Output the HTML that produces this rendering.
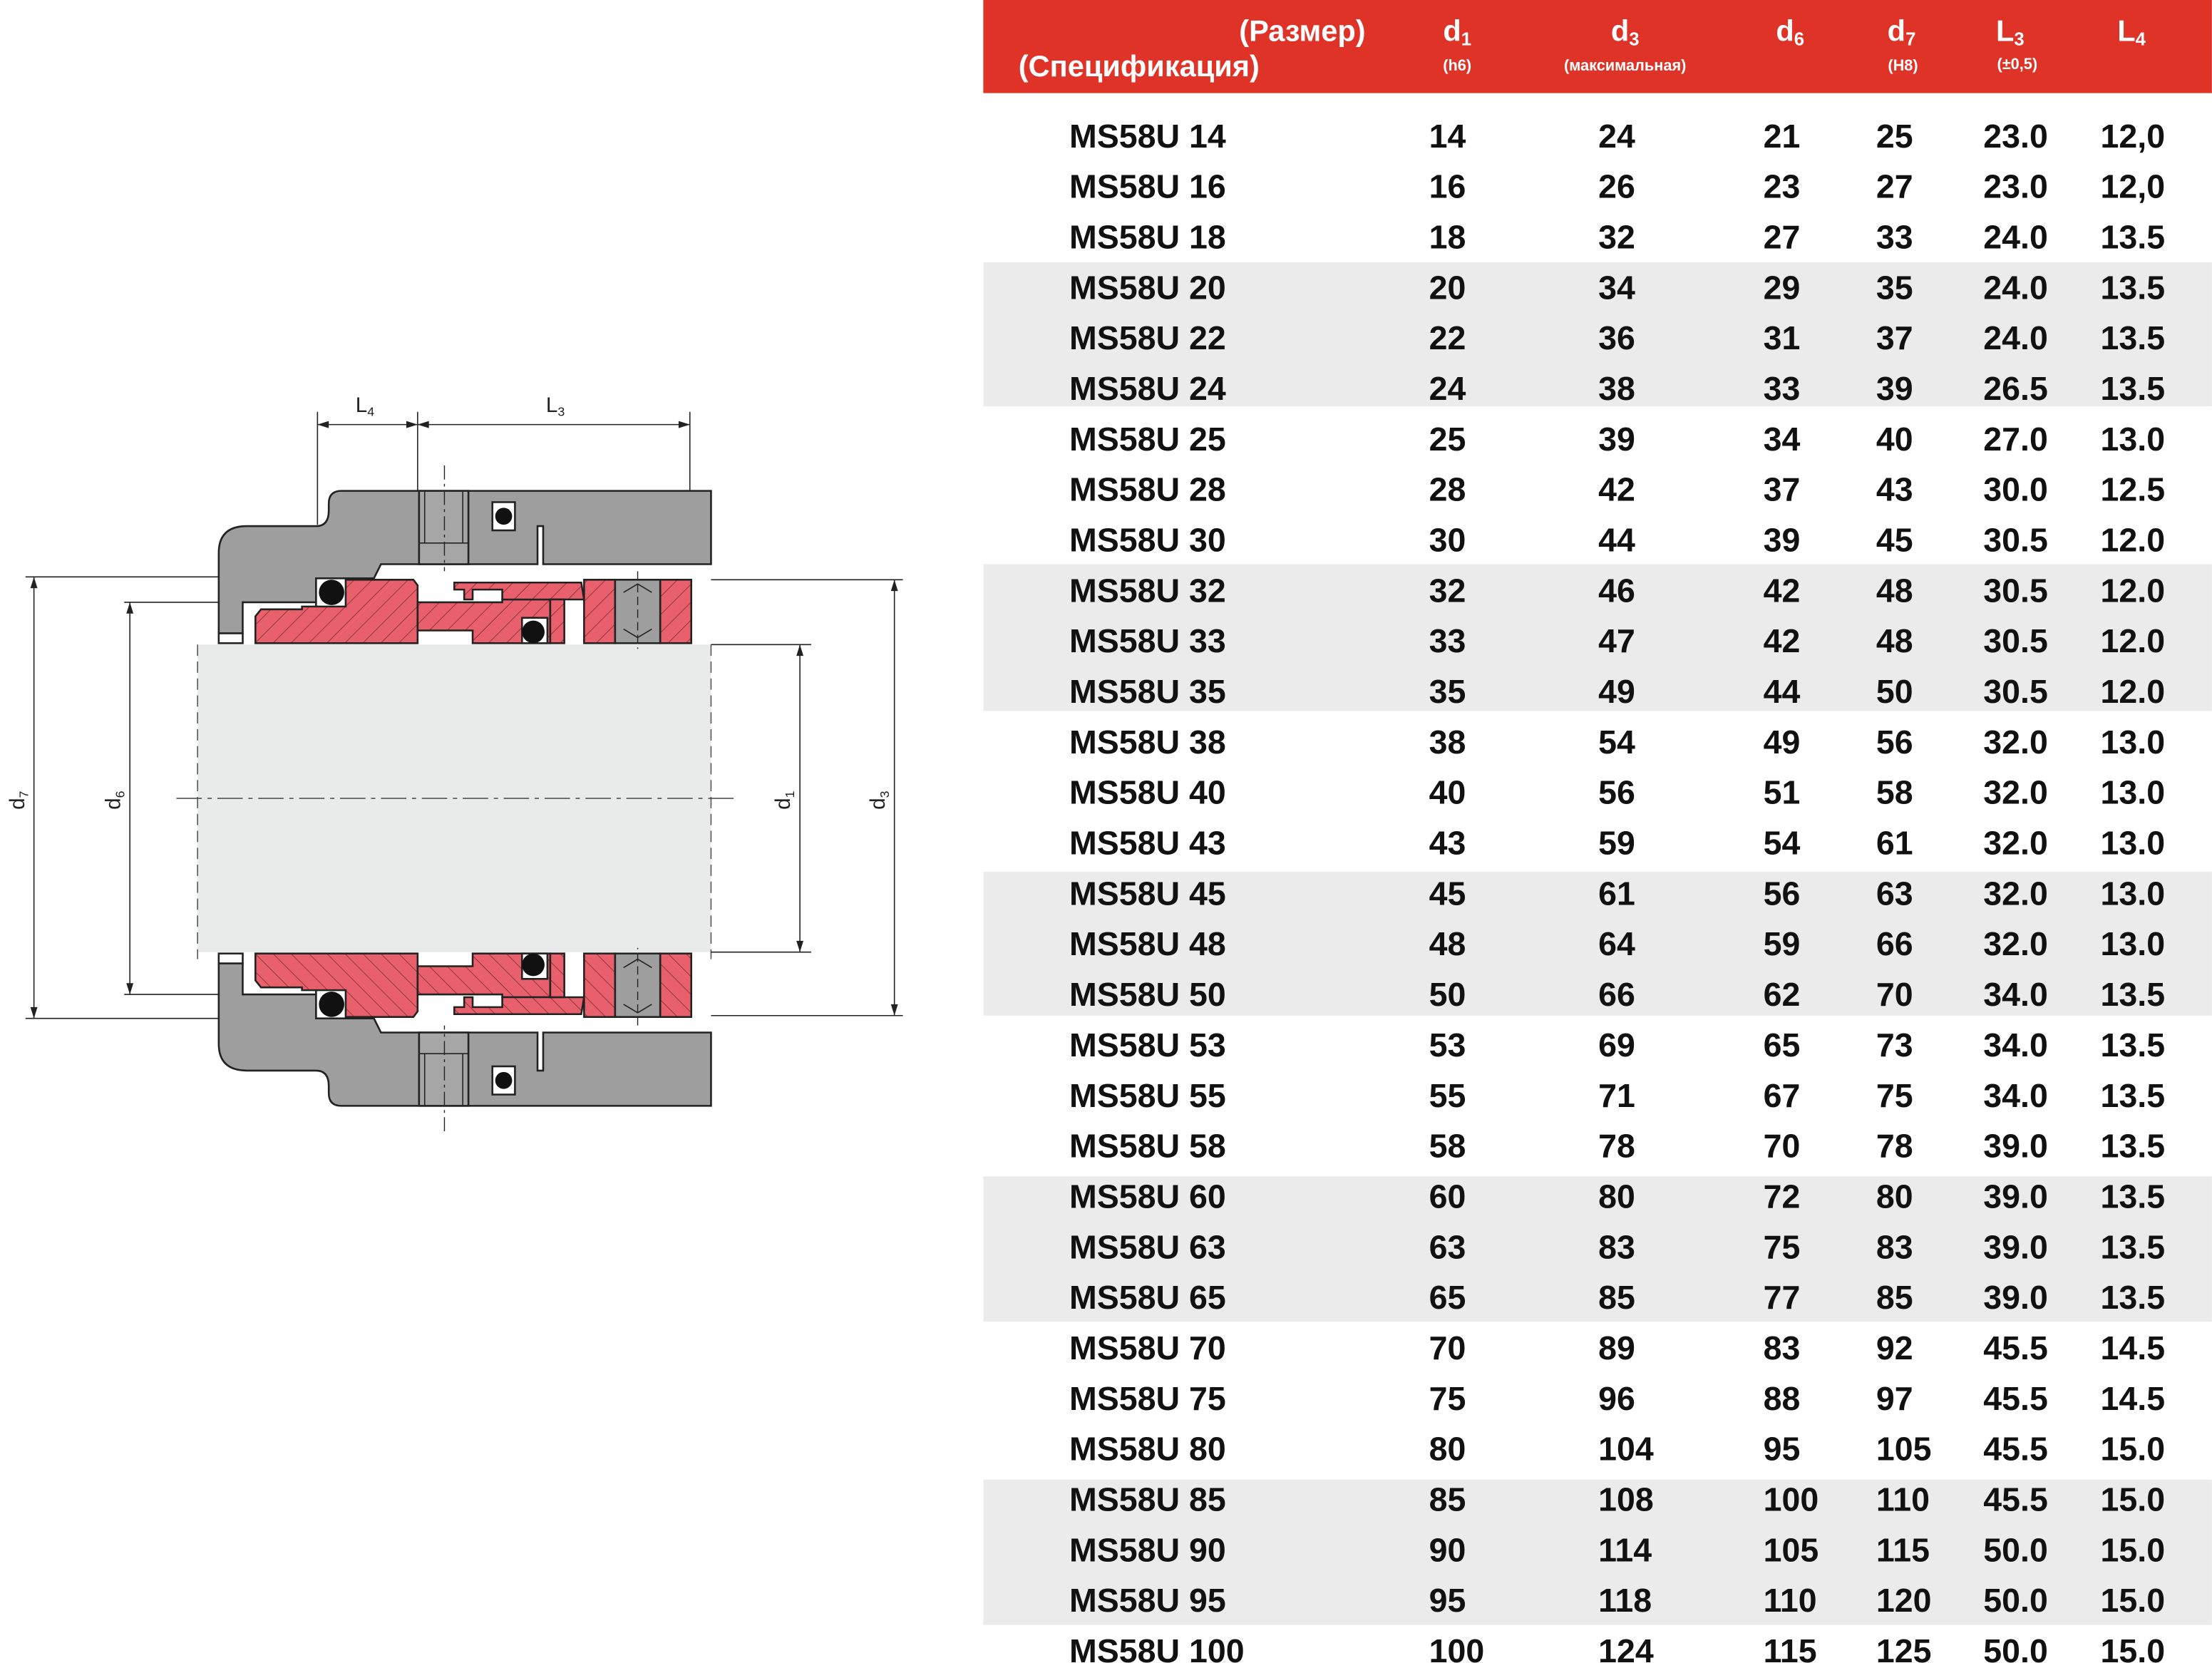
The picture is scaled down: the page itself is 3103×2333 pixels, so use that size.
<!DOCTYPE html>
<html><head><meta charset="utf-8"><style>html,body{margin:0;padding:0;background:#fff}svg{display:block}</style></head>
<body>
<svg width="3103" height="2333" viewBox="0 0 1568 1179" xmlns="http://www.w3.org/2000/svg">
<defs>
<pattern id="h" patternUnits="userSpaceOnUse" width="9" height="9" patternTransform="rotate(45)">
<rect width="9" height="9" fill="#e8606c"/><line x1="0" y1="0" x2="0" y2="9" stroke="#7a2a30" stroke-width="0.8"/></pattern>
</defs>
<rect width="1568" height="1179" fill="#fff"/>
<!-- table bands -->
<rect x="697" y="0" width="871" height="66" fill="#df3328"/>
<g fill="#ebebeb">
<rect x="697" y="186" width="871" height="102"/>
<rect x="697" y="400" width="871" height="104"/>
<rect x="697" y="618" width="871" height="102"/>
<rect x="697" y="834" width="871" height="103"/>
<rect x="697" y="1049" width="871" height="103"/>
</g>
<g font-family="Liberation Sans, sans-serif" font-weight="bold" fill="#fff">
<text x="968" y="29" font-size="21" text-anchor="end">(Размер)</text>
<text x="722" y="54" font-size="21">(Спецификация)</text>
<text x="1033" y="29" font-size="21" text-anchor="middle">d<tspan font-size="13" dy="3">1</tspan></text>
<text x="1152" y="29" font-size="21" text-anchor="middle">d<tspan font-size="13" dy="3">3</tspan></text>
<text x="1269" y="29" font-size="21" text-anchor="middle">d<tspan font-size="13" dy="3">6</tspan></text>
<text x="1348" y="29" font-size="21" text-anchor="middle">d<tspan font-size="13" dy="3">7</tspan></text>
<text x="1425" y="29" font-size="21" text-anchor="middle">L<tspan font-size="13" dy="3">3</tspan></text>
<text x="1511" y="29" font-size="21" text-anchor="middle">L<tspan font-size="13" dy="3">4</tspan></text>
<g font-size="11" text-anchor="middle">
<text x="1033" y="50">(h6)</text><text x="1152" y="50">(максимальная)</text><text x="1349" y="50">(H8)</text><text x="1430" y="49">(±0,5)</text>
</g></g>
<g font-family="Liberation Sans, sans-serif" font-weight="bold" font-size="23.5" fill="#111">
<g id="r">
<text y="104.5"><tspan x="758">MS58U 14</tspan><tspan x="1013">14</tspan><tspan x="1133">24</tspan><tspan x="1250">21</tspan><tspan x="1330">25</tspan><tspan x="1406">23.0</tspan><tspan x="1489">12,0</tspan></text>
<text y="140.3"><tspan x="758">MS58U 16</tspan><tspan x="1013">16</tspan><tspan x="1133">26</tspan><tspan x="1250">23</tspan><tspan x="1330">27</tspan><tspan x="1406">23.0</tspan><tspan x="1489">12,0</tspan></text>
<text y="176.1"><tspan x="758">MS58U 18</tspan><tspan x="1013">18</tspan><tspan x="1133">32</tspan><tspan x="1250">27</tspan><tspan x="1330">33</tspan><tspan x="1406">24.0</tspan><tspan x="1489">13.5</tspan></text>
<text y="211.9"><tspan x="758">MS58U 20</tspan><tspan x="1013">20</tspan><tspan x="1133">34</tspan><tspan x="1250">29</tspan><tspan x="1330">35</tspan><tspan x="1406">24.0</tspan><tspan x="1489">13.5</tspan></text>
<text y="247.7"><tspan x="758">MS58U 22</tspan><tspan x="1013">22</tspan><tspan x="1133">36</tspan><tspan x="1250">31</tspan><tspan x="1330">37</tspan><tspan x="1406">24.0</tspan><tspan x="1489">13.5</tspan></text>
<text y="283.5"><tspan x="758">MS58U 24</tspan><tspan x="1013">24</tspan><tspan x="1133">38</tspan><tspan x="1250">33</tspan><tspan x="1330">39</tspan><tspan x="1406">26.5</tspan><tspan x="1489">13.5</tspan></text>
<text y="319.3"><tspan x="758">MS58U 25</tspan><tspan x="1013">25</tspan><tspan x="1133">39</tspan><tspan x="1250">34</tspan><tspan x="1330">40</tspan><tspan x="1406">27.0</tspan><tspan x="1489">13.0</tspan></text>
<text y="355.1"><tspan x="758">MS58U 28</tspan><tspan x="1013">28</tspan><tspan x="1133">42</tspan><tspan x="1250">37</tspan><tspan x="1330">43</tspan><tspan x="1406">30.0</tspan><tspan x="1489">12.5</tspan></text>
<text y="390.9"><tspan x="758">MS58U 30</tspan><tspan x="1013">30</tspan><tspan x="1133">44</tspan><tspan x="1250">39</tspan><tspan x="1330">45</tspan><tspan x="1406">30.5</tspan><tspan x="1489">12.0</tspan></text>
<text y="426.7"><tspan x="758">MS58U 32</tspan><tspan x="1013">32</tspan><tspan x="1133">46</tspan><tspan x="1250">42</tspan><tspan x="1330">48</tspan><tspan x="1406">30.5</tspan><tspan x="1489">12.0</tspan></text>
<text y="462.5"><tspan x="758">MS58U 33</tspan><tspan x="1013">33</tspan><tspan x="1133">47</tspan><tspan x="1250">42</tspan><tspan x="1330">48</tspan><tspan x="1406">30.5</tspan><tspan x="1489">12.0</tspan></text>
<text y="498.3"><tspan x="758">MS58U 35</tspan><tspan x="1013">35</tspan><tspan x="1133">49</tspan><tspan x="1250">44</tspan><tspan x="1330">50</tspan><tspan x="1406">30.5</tspan><tspan x="1489">12.0</tspan></text>
<text y="534.1"><tspan x="758">MS58U 38</tspan><tspan x="1013">38</tspan><tspan x="1133">54</tspan><tspan x="1250">49</tspan><tspan x="1330">56</tspan><tspan x="1406">32.0</tspan><tspan x="1489">13.0</tspan></text>
<text y="569.9"><tspan x="758">MS58U 40</tspan><tspan x="1013">40</tspan><tspan x="1133">56</tspan><tspan x="1250">51</tspan><tspan x="1330">58</tspan><tspan x="1406">32.0</tspan><tspan x="1489">13.0</tspan></text>
<text y="605.7"><tspan x="758">MS58U 43</tspan><tspan x="1013">43</tspan><tspan x="1133">59</tspan><tspan x="1250">54</tspan><tspan x="1330">61</tspan><tspan x="1406">32.0</tspan><tspan x="1489">13.0</tspan></text>
<text y="641.5"><tspan x="758">MS58U 45</tspan><tspan x="1013">45</tspan><tspan x="1133">61</tspan><tspan x="1250">56</tspan><tspan x="1330">63</tspan><tspan x="1406">32.0</tspan><tspan x="1489">13.0</tspan></text>
<text y="677.3"><tspan x="758">MS58U 48</tspan><tspan x="1013">48</tspan><tspan x="1133">64</tspan><tspan x="1250">59</tspan><tspan x="1330">66</tspan><tspan x="1406">32.0</tspan><tspan x="1489">13.0</tspan></text>
<text y="713.1"><tspan x="758">MS58U 50</tspan><tspan x="1013">50</tspan><tspan x="1133">66</tspan><tspan x="1250">62</tspan><tspan x="1330">70</tspan><tspan x="1406">34.0</tspan><tspan x="1489">13.5</tspan></text>
<text y="748.9"><tspan x="758">MS58U 53</tspan><tspan x="1013">53</tspan><tspan x="1133">69</tspan><tspan x="1250">65</tspan><tspan x="1330">73</tspan><tspan x="1406">34.0</tspan><tspan x="1489">13.5</tspan></text>
<text y="784.7"><tspan x="758">MS58U 55</tspan><tspan x="1013">55</tspan><tspan x="1133">71</tspan><tspan x="1250">67</tspan><tspan x="1330">75</tspan><tspan x="1406">34.0</tspan><tspan x="1489">13.5</tspan></text>
<text y="820.5"><tspan x="758">MS58U 58</tspan><tspan x="1013">58</tspan><tspan x="1133">78</tspan><tspan x="1250">70</tspan><tspan x="1330">78</tspan><tspan x="1406">39.0</tspan><tspan x="1489">13.5</tspan></text>
<text y="856.3"><tspan x="758">MS58U 60</tspan><tspan x="1013">60</tspan><tspan x="1133">80</tspan><tspan x="1250">72</tspan><tspan x="1330">80</tspan><tspan x="1406">39.0</tspan><tspan x="1489">13.5</tspan></text>
<text y="892.1"><tspan x="758">MS58U 63</tspan><tspan x="1013">63</tspan><tspan x="1133">83</tspan><tspan x="1250">75</tspan><tspan x="1330">83</tspan><tspan x="1406">39.0</tspan><tspan x="1489">13.5</tspan></text>
<text y="927.9"><tspan x="758">MS58U 65</tspan><tspan x="1013">65</tspan><tspan x="1133">85</tspan><tspan x="1250">77</tspan><tspan x="1330">85</tspan><tspan x="1406">39.0</tspan><tspan x="1489">13.5</tspan></text>
<text y="963.7"><tspan x="758">MS58U 70</tspan><tspan x="1013">70</tspan><tspan x="1133">89</tspan><tspan x="1250">83</tspan><tspan x="1330">92</tspan><tspan x="1406">45.5</tspan><tspan x="1489">14.5</tspan></text>
<text y="999.5"><tspan x="758">MS58U 75</tspan><tspan x="1013">75</tspan><tspan x="1133">96</tspan><tspan x="1250">88</tspan><tspan x="1330">97</tspan><tspan x="1406">45.5</tspan><tspan x="1489">14.5</tspan></text>
<text y="1035.3"><tspan x="758">MS58U 80</tspan><tspan x="1013">80</tspan><tspan x="1133">104</tspan><tspan x="1250">95</tspan><tspan x="1330">105</tspan><tspan x="1406">45.5</tspan><tspan x="1489">15.0</tspan></text>
<text y="1071.1"><tspan x="758">MS58U 85</tspan><tspan x="1013">85</tspan><tspan x="1133">108</tspan><tspan x="1250">100</tspan><tspan x="1330">110</tspan><tspan x="1406">45.5</tspan><tspan x="1489">15.0</tspan></text>
<text y="1106.9"><tspan x="758">MS58U 90</tspan><tspan x="1013">90</tspan><tspan x="1133">114</tspan><tspan x="1250">105</tspan><tspan x="1330">115</tspan><tspan x="1406">50.0</tspan><tspan x="1489">15.0</tspan></text>
<text y="1142.7"><tspan x="758">MS58U 95</tspan><tspan x="1013">95</tspan><tspan x="1133">118</tspan><tspan x="1250">110</tspan><tspan x="1330">120</tspan><tspan x="1406">50.0</tspan><tspan x="1489">15.0</tspan></text>
<text y="1178.5"><tspan x="758">MS58U 100</tspan><tspan x="1013">100</tspan><tspan x="1133">124</tspan><tspan x="1250">115</tspan><tspan x="1330">125</tspan><tspan x="1406">50.0</tspan><tspan x="1489">15.0</tspan></text>
</g></g>

<!-- drawing -->
<rect x="140" y="457" width="364" height="218" fill="#e9eaea"/>
<line x1="140" y1="457" x2="140" y2="680" stroke="#555" stroke-width="0.8" stroke-dasharray="8,4"/>
<line x1="504" y1="457" x2="504" y2="680" stroke="#555" stroke-width="0.8" stroke-dasharray="8,4"/>
<line x1="125" y1="566" x2="520" y2="566" stroke="#444" stroke-width="0.8" stroke-dasharray="18,4,3,4"/>
<g id="half" stroke="#222" stroke-width="1.3">
<path d="M155,449 L155,392 Q155,373 175,373 L224,373 Q233,373 233,362 L233,357 Q233,348 242,348 L504,348 L504,400 L385,400 L385,373 L381,373 L381,400 L270,400 L265,410 L224,410 L224,427 L172,427 L172,449 Z" fill="#9d9e9d"/>
<rect x="155" y="449" width="17" height="7" fill="#fff"/>
<rect x="297" y="348" width="35" height="52" fill="#a5a6a5"/>
<line x1="301" y1="348" x2="301" y2="385" stroke-width="0.8"/><line x1="328" y1="348" x2="328" y2="385" stroke-width="0.8"/>
<line x1="297" y1="385" x2="332" y2="385" stroke-width="0.8"/>
<rect x="349" y="356" width="16" height="20" fill="#fff"/>
<circle cx="357" cy="366" r="6" fill="#111" stroke="none"/>
<rect x="224" y="410" width="22" height="22" fill="#fff"/>
<circle cx="235" cy="420" r="9" fill="#111" stroke="none"/>
<path d="M181,437 L185,432 L214,432 L214,430 L245,430 L245,411 L293,411 L296,415 L296,456 L181,456 Z" fill="url(#h)"/>
<path d="M296,427 L356,427 L356,425 L390,425 L390,456 L335,456 L335,447 L296,447 Z" fill="url(#h)"/>
<rect x="370" y="438" width="18" height="18" fill="#fff"/>
<circle cx="378" cy="448" r="8" fill="#111" stroke="none"/>
<path d="M322,413 L412,413 L414,425 L356,425 L356,418 L335,418 L335,425 L329,425 L329,418 L322,418 Z" fill="url(#h)"/>
<rect x="390" y="425" width="10" height="31" fill="url(#h)"/>
<rect x="414" y="411" width="22" height="45" fill="url(#h)"/>
<rect x="436" y="411" width="32" height="45" fill="#9d9e9d"/>
<path d="M442,420 L452,414 L462,420 M442,446 L452,452 L462,446" fill="none" stroke-width="0.8"/>
<rect x="468" y="411" width="22" height="45" fill="url(#h)"/>
<line x1="452" y1="405" x2="452" y2="460" stroke-width="0.7" stroke-dasharray="6,3"/>
<line x1="315" y1="330" x2="315" y2="405" stroke-width="0.7" stroke-dasharray="10,3,2,3"/>
</g>
<use href="#half" transform="translate(0,1132) scale(1,-1)"/>

<!-- dimensions -->
<g stroke="#222" stroke-width="0.8" fill="none">
<line x1="225" y1="292" x2="225" y2="372"/><line x1="296" y1="292" x2="296" y2="348"/><line x1="489" y1="292" x2="489" y2="348"/>
<line x1="225" y1="301" x2="296" y2="301"/><line x1="296" y1="301" x2="489" y2="301"/>
<line x1="18" y1="409" x2="155" y2="409"/><line x1="18" y1="722" x2="155" y2="722"/><line x1="24" y1="409" x2="24" y2="722"/>
<line x1="88" y1="427" x2="155" y2="427"/><line x1="88" y1="705" x2="155" y2="705"/><line x1="92" y1="427" x2="92" y2="705"/>
<line x1="504" y1="457" x2="575" y2="457"/><line x1="504" y1="675" x2="575" y2="675"/><line x1="567" y1="457" x2="567" y2="675"/>
<line x1="504" y1="411" x2="640" y2="411"/><line x1="504" y1="720" x2="640" y2="720"/><line x1="634" y1="411" x2="634" y2="720"/>
</g>
<g fill="#222">
<path d="M225,301 l8,-2.5 v5z M296,301 l-8,-2.5 v5z M296,301 l8,-2.5 v5z M489,301 l-8,-2.5 v5z"/>
<path d="M24,409 l-2.5,8 h5z M24,722 l-2.5,-8 h5z M92,427 l-2.5,8 h5z M92,705 l-2.5,-8 h5z"/>
<path d="M567,457 l-2.5,8 h5z M567,675 l-2.5,-8 h5z M634,411 l-2.5,8 h5z M634,720 l-2.5,-8 h5z"/>
</g>
<g font-family="Liberation Sans, sans-serif" font-size="15" fill="#222">
<text x="252" y="292">L<tspan font-size="9" dy="3">4</tspan></text>
<text x="387" y="292">L<tspan font-size="9" dy="3">3</tspan></text>
<text transform="translate(17,574) rotate(-90)">d<tspan font-size="9" dy="3">7</tspan></text>
<text transform="translate(85,574) rotate(-90)">d<tspan font-size="9" dy="3">6</tspan></text>
<text transform="translate(560,574) rotate(-90)">d<tspan font-size="9" dy="3">1</tspan></text>
<text transform="translate(627,574) rotate(-90)">d<tspan font-size="9" dy="3">3</tspan></text>
</g>
</svg>
</body></html>
